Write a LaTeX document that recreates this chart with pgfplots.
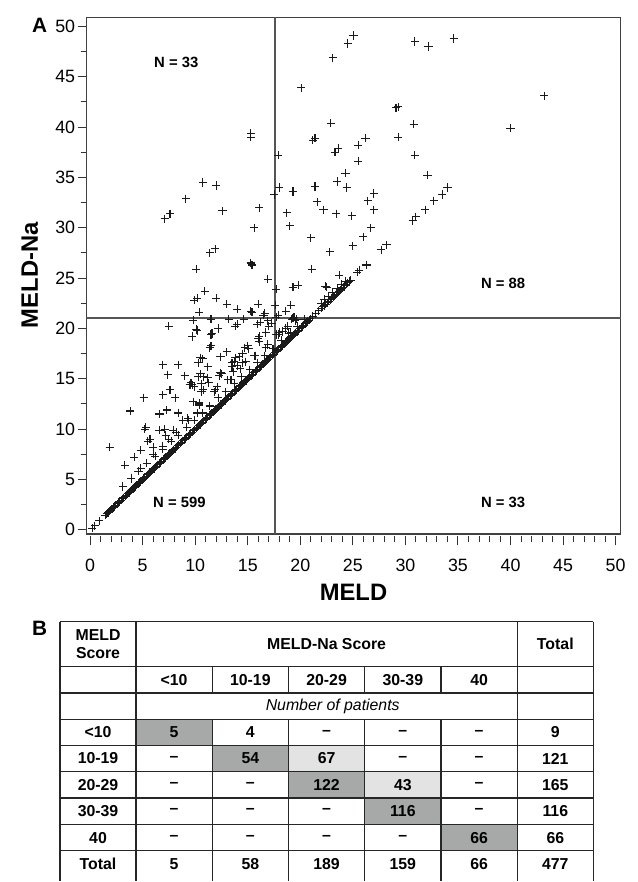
\documentclass[border=0pt]{standalone}
\usepackage{pgfplots}
\pgfplotsset{compat=1.18}
\usepackage{fontspec}
\setmainfont{Liberation Sans}
\definecolor{tdark}{HTML}{A7A9A8}
\definecolor{tlight}{HTML}{E3E3E3}
\definecolor{mk}{HTML}{1A1A1A}
\definecolor{refl}{HTML}{555555}
\begin{document}
\begin{tikzpicture}
\begin{scope}[x=0.5pt,y=-0.5pt]
\path[use as bounding box] (0,0) rectangle (644,882);
\end{scope}
\begin{axis}[
  at={(43.65pt,-269.65pt)}, anchor=south west,
  scale only axis, width=269.85pt, height=261pt,
  xmin=-0.35, xmax=50.5, ymin=-0.42, ymax=50.92,
  xtick={0,5,...,50}, ytick={0,5,...,50},
  minor x tick num=4, minor y tick num=1,
  tick pos=left,
  tick align=outside,
  major tick length=4.5pt, minor tick length=3pt,
  tick style={black!80, line width=0.5pt},
  xtick style={yshift=-1.2pt},
  axis line style={black!75, line width=0.6pt},
  ticklabel style={font=\fontsize{9}{10}\selectfont, black},
  /pgf/number format/assume math mode=true,
  xticklabel style={yshift=-4.5pt},
  yticklabel style={inner xsep=1pt},
  clip=true,
]
% reference lines
\addplot[refl, line width=0.65pt] coordinates {(17.6,-0.42) (17.6,50.92)};
\addplot[refl, line width=0.65pt] coordinates {(-0.35,21.05) (50.5,21.05)};
% scattered points
\addplot[only marks, mark=+, mark size=2.05pt, mk, mark options={line width=0.55pt}] table[row sep=\\] {
x y\\
25.06 49.1\\ 24.5 48.3\\ 23.1 46.9\\ 30.9 48.5\\ 32.2 48.0\\ 34.6 48.8\\
20.1 43.9\\ 43.2 43.1\\ 40.0 39.9\\ 29.1 41.9\\ 29.3 42.0\\ 22.9 40.4\\
30.8 40.3\\ 15.3 39.4\\ 15.3 39.0\\ 21.2 38.7\\ 21.4 38.9\\ 26.2 38.9\\
29.3 39.0\\ 25.5 38.2\\ 23.6 37.9\\ 23.3 37.5\\ 17.9 37.2\\ 30.9 37.2\\
25.5 36.6\\ 24.3 35.4\\ 32.1 35.2\\ 10.7 34.5\\ 12.0 34.2\\ 21.4 34.1\\
23.5 34.6\\ 24.4 34.0\\ 18.0 34.0\\ 19.3 33.6\\ 17.5 33.3\\ 27.0 33.4\\
26.4 32.7\\ 34.0 34.0\\ 33.5 33.3\\ 32.7 32.7\\ 31.9 31.8\\ 31.0 31.1\\
30.7 30.7\\ 9.1 32.9\\ 7.1 30.9\\ 7.6 31.4\\ 12.6 31.7\\ 16.1 32.0\\
18.7 31.5\\ 21.6 32.6\\ 22.2 31.8\\ 23.4 31.4\\ 24.9 31.2\\ 27.0 31.8\\
15.6 30.0\\ 19.0 30.2\\ 26.7 30.0\\ 26.0 29.1\\ 21.0 29.0\\ 25.0 28.2\\
28.2 28.3\\ 27.7 27.8\\ 22.8 27.6\\ 11.9 27.9\\ 11.4 27.5\\ 15.3 26.5\\
15.4 26.3\\ 10.1 25.9\\ 21.1 25.9\\ 26.3 26.3\\ 25.6 25.8\\ 25.4 25.6\\
23.7 25.3\\ 16.9 24.9\\
17.7 23.9\\ 19.3 24.1\\ 19.8 24.3\\ 22.4 24.2\\ 22.5 24.1\\ 10.9 23.7\\
10.2 23.0\\ 9.9 22.8\\ 12.0 23.0\\ 13.0 22.4\\ 14.0 21.9\\ 16.0 22.4\\
17.6 22.3\\ 19.1 22.3\\ 10.4 21.6\\ 15.4 21.6\\ 15.3 21.7\\ 16.6 21.5\\
18.6 21.7\\ 9.8 20.8\\ 11.5 20.9\\ 13.2 20.9\\ 14.6 20.9\\ 16.2 20.6\\
15.9 20.4\\ 16.9 20.75\\ 17.7 21.1\\ 19.2 20.9\\ 19.5 20.75\\ 7.5 20.2\\
10.2 19.8\\ 10.1 19.9\\ 12.2 20.0\\ 13.8 20.2\\ 14.0 20.4\\ 9.7 19.2\\
11.5 19.4\\ 16.7 19.6\\ 17.9 19.4\\ 19.1 19.6\\ 11.5 18.3\\ 11.4 18.1\\
13.0 17.7\\ 14.7 18.1\\ 15.0 18.3\\ 16.0 19.0\\ 16.7 18.1\\ 12.4 17.2\\
13.8 17.1\\ 14.5 17.5\\ 15.6 17.3\\ 6.9 16.4\\ 8.4 16.4\\ 10.5 17.1\\
10.7 17.0\\ 7.4 15.4\\ 9.0 15.3\\ 10.75 15.2\\ 12.3 15.3\\ 12.5 15.5\\
13.5 16.2\\ 14.0 16.3\\ 14.5 16.6\\ 14.8 16.7\\ 9.7 14.4\\ 9.9 14.2\\
10.6 14.5\\ 11.3 14.6\\ 12.1 14.2\\ 11.9 13.9\\ 13.4 14.9\\ 7.6 13.9\\
5.1 13.1\\ 6.9 13.4\\ 8.1 13.1\\ 10.6 13.7\\ 10.75 13.9\\ 9.8 12.7\\
10.4 12.6\\ 3.8 11.8\\ 6.6 11.5\\ 7.3 11.9\\ 8.4 11.6\\ 9.4 10.9\\
9.3 11.1\\ 10.2 11.6\\ 5.3 10.2\\ 5.2 10.0\\ 6.6 9.9\\ 7.1 10.0\\
7.9 9.9\\ 8.2 9.7\\ 5.7 9.0\\ 5.5 8.8\\ 7.5 9.0\\ 4.8 7.9\\
6.0 7.5\\ 6.9 8.3\\ 3.3 6.4\\ 4.8 6.1\\ 4.2 7.2\\ 1.86 8.2\\
0.2 0.16\\ 0.45 0.4\\ 0.85 0.9\\
13.7 16.7\\ 14.2 17.2\\ 15.1 18.0\\ 16.1 18.7\\ 16.1 19.2\\ 17.0 20.2\\
17.3 20.5\\ 17.7 19.4\\ 18.0 19.6\\ 18.6 20.0\\ 18.8 20.2\\ 19.3 21.0\\
19.4 21.1\\ 13.5 16.6\\ 13.6 15.7\\ 9.6 14.6\\ 9.5 14.4\\ 11.2 15.1\\
12.4 15.6\\ 10.3 15.2\\ 10.5 15.5\\ 11.2 16.2\\ 10.3 16.6\\ 16.5 21.3\\
17.9 21.3\\ 11.6 19.5\\
3.1 4.3\\ 3.9 5.1\\ 4.6 5.8\\ 5.4 6.6\\ 6.2 7.3\\ 6.9 8.0\\
7.7 8.8\\ 8.4 9.4\\ 9.2 10.2\\ 9.9 10.9\\ 10.7 11.6\\ 11.4 12.3\\
12.2 13.1\\ 12.9 13.7\\ 13.7 14.5\\ 14.4 15.2\\ 15.2 15.9\\ 15.9 16.6\\
16.6 17.3\\ 17.4 18.0\\ 18.2 18.8\\ 18.9 19.5\\ 19.7 20.2\\ 20.4 20.9\\
6.0 8.2\\ 7.2 9.4\\ 8.8 10.9\\ 10.4 12.4\\ 11.8 13.7\\ 13.1 14.9\\
14.3 16.0\\ 15.7 17.3\\ 16.9 18.4\\ 18.3 19.7\\ 19.6 20.9\\
22.0 22.5\\ 22.3 22.9\\ 22.7 23.2\\ 23.1 23.6\\ 23.5 24.0\\ 23.9 24.4\\ 24.3 24.7\\
}; 
% dense main diagonal
\addplot[only marks, mark=+, mark size=2.05pt, mk, mark options={line width=0.55pt}] table[row sep=\\] {
x y\\
1.45 1.45\\ 1.58 1.58\\ 1.70 1.70\\ 1.83 1.83\\ 1.95 1.95\\ 2.08 2.08\\ 2.20 2.20\\ 2.33 2.33\\
2.45 2.45\\ 2.58 2.58\\ 2.70 2.70\\ 2.83 2.83\\ 2.95 2.95\\ 3.08 3.08\\ 3.20 3.20\\ 3.33 3.33\\
3.45 3.45\\ 3.58 3.58\\ 3.70 3.70\\ 3.83 3.83\\ 3.95 3.95\\ 4.08 4.08\\ 4.20 4.20\\ 4.33 4.33\\
4.45 4.45\\ 4.58 4.58\\ 4.70 4.70\\ 4.83 4.83\\ 4.95 4.95\\ 5.08 5.08\\ 5.20 5.20\\ 5.33 5.33\\
5.45 5.45\\ 5.58 5.58\\ 5.70 5.70\\ 5.83 5.83\\ 5.95 5.95\\ 6.08 6.08\\ 6.20 6.20\\ 6.33 6.33\\
6.45 6.45\\ 6.58 6.58\\ 6.70 6.70\\ 6.83 6.83\\ 6.95 6.95\\ 7.08 7.08\\ 7.20 7.20\\ 7.33 7.33\\
7.45 7.45\\ 7.58 7.58\\ 7.70 7.70\\ 7.83 7.83\\ 7.95 7.95\\ 8.08 8.08\\ 8.20 8.20\\ 8.33 8.33\\
8.45 8.45\\ 8.58 8.58\\ 8.70 8.70\\ 8.83 8.83\\ 8.95 8.95\\ 9.08 9.08\\ 9.20 9.20\\ 9.33 9.33\\
9.45 9.45\\ 9.58 9.58\\ 9.70 9.70\\ 9.83 9.83\\ 9.95 9.95\\ 10.08 10.08\\ 10.20 10.20\\ 10.33 10.33\\
10.45 10.45\\ 10.58 10.58\\ 10.70 10.70\\ 10.83 10.83\\ 10.95 10.95\\ 11.08 11.08\\ 11.20 11.20\\ 11.33 11.33\\
11.45 11.45\\ 11.58 11.58\\ 11.70 11.70\\ 11.83 11.83\\ 11.95 11.95\\ 12.08 12.08\\ 12.20 12.20\\ 12.33 12.33\\
12.45 12.45\\ 12.58 12.58\\ 12.70 12.70\\ 12.83 12.83\\ 12.95 12.95\\ 13.08 13.08\\ 13.20 13.20\\ 13.33 13.33\\
13.45 13.45\\ 13.58 13.58\\ 13.70 13.70\\ 13.83 13.83\\ 13.95 13.95\\ 14.08 14.08\\ 14.20 14.20\\ 14.33 14.33\\
14.45 14.45\\ 14.58 14.58\\ 14.70 14.70\\ 14.83 14.83\\ 14.95 14.95\\ 15.08 15.08\\ 15.20 15.20\\ 15.33 15.33\\
15.45 15.45\\ 15.58 15.58\\ 15.70 15.70\\ 15.83 15.83\\ 15.95 15.95\\ 16.08 16.08\\ 16.20 16.20\\ 16.33 16.33\\
16.45 16.45\\ 16.58 16.58\\ 16.70 16.70\\ 16.83 16.83\\ 16.95 16.95\\ 17.08 17.08\\ 17.20 17.20\\ 17.33 17.33\\
17.45 17.45\\ 17.58 17.58\\ 17.70 17.70\\ 17.83 17.83\\ 17.95 17.95\\ 18.08 18.08\\ 18.20 18.20\\ 18.33 18.33\\
18.45 18.45\\ 18.58 18.58\\ 18.70 18.70\\ 18.83 18.83\\ 18.95 18.95\\ 19.08 19.08\\ 19.20 19.20\\ 19.33 19.33\\
19.45 19.45\\ 19.58 19.58\\ 19.70 19.70\\ 19.83 19.83\\ 19.95 19.95\\ 20.08 20.08\\ 20.20 20.20\\ 20.33 20.33\\
20.45 20.45\\ 20.58 20.58\\ 20.70 20.70\\ 20.83 20.83\\ 20.95 20.95\\ 21.20 21.20\\ 21.45 21.45\\ 21.75 21.75\\
22.00 22.00\\ 22.14 22.14\\ 22.28 22.28\\ 22.42 22.42\\ 22.56 22.56\\ 22.70 22.70\\ 22.84 22.84\\
22.98 22.98\\ 23.12 23.12\\ 23.26 23.26\\ 23.40 23.40\\ 23.54 23.54\\ 23.68 23.68\\ 23.82 23.82\\
23.96 23.96\\ 24.10 24.10\\ 24.24 24.24\\ 24.38 24.38\\ 24.52 24.52\\ 24.66 24.66\\ 24.80 24.80\\
};
\node[font=\bfseries\fontsize{7.5}{9}\selectfont] at (axis cs:8.2,46.4) {N = 33};
\node[font=\bfseries\fontsize{7.5}{9}\selectfont] at (axis cs:39.3,24.5) {N = 88};
\node[font=\bfseries\fontsize{7.5}{9}\selectfont] at (axis cs:8.5,2.75) {N = 599};
\node[font=\bfseries\fontsize{7.5}{9}\selectfont] at (axis cs:39.3,2.75) {N = 33};
\end{axis}
\begin{scope}[x=0.5pt,y=-0.5pt]
\node[font=\bfseries\fontsize{12}{14}\selectfont] at (357,598) {MELD};
\node[rotate=90, font=\bfseries\fontsize{12}{14}\selectfont] at (30,278) {MELD-Na};
\node[font=\bfseries\fontsize{10.5}{12}\selectfont] at (40,25.5) {A};
\node[font=\bfseries\fontsize{10.5}{12}\selectfont] at (40,634.5) {B};
% table shading
\fill[tdark] (137.3,726.7) rectangle (214.3,752.7);
\fill[tdark] (214.3,752.7) rectangle (291.3,779.3);
\fill[tlight] (291.3,752.7) rectangle (368.3,779.3);
\fill[tdark] (291.3,779.3) rectangle (368.3,806);
\fill[tlight] (368.3,779.3) rectangle (445.3,806);
\fill[tdark] (368.3,806) rectangle (445.3,832.7);
\fill[tdark] (445.3,832.7) rectangle (522.3,859);
% table lines
\begin{scope}[black!85, line width=0.7pt]
\foreach \r in {627.7,673.3,700,726.7,752.7,779.3,806,832.7,859}
  \draw (60.7,\r) -- (599.3,\r);
\foreach \c in {60.7,137.3,522.3,599.3}
  \draw (\c,627.7) -- (\c,890);
\foreach \c in {214.3,291.3,368.3,445.3} {
  \draw (\c,673.3) -- (\c,700);
  \draw (\c,726.7) -- (\c,890);
}
\end{scope}
% table text
\begin{scope}[font=\bfseries\fontsize{8}{8.8}\selectfont]
\node[align=center] at (99,650.5) {MELD\\Score};
\node at (329.8,650.5) {MELD-Na Score};
\node at (560.8,650.5) {Total};
\node at (175.8,686.7) {<10};
\node at (252.8,686.7) {10-19};
\node at (329.8,686.7) {20-29};
\node at (406.8,686.7) {30-39};
\node at (483.8,686.7) {40};
\node[font=\mdseries\itshape\fontsize{8}{9}\selectfont] at (336,713.3) {Number of patients};
% rows
\node at (99,739.7) {<10};
\node at (175.8,739.7) {5};
\node at (252.8,739.7) {4};
\node at (329.8,739.7) {–};
\node at (406.8,739.7) {–};
\node at (483.8,739.7) {–};
\node at (560.8,739.7) {9};
\node at (99,766) {10-19};
\node at (175.8,766) {–};
\node at (252.8,766) {54};
\node at (329.8,766) {67};
\node at (406.8,766) {–};
\node at (483.8,766) {–};
\node at (560.8,766) {121};
\node at (99,792.7) {20-29};
\node at (175.8,792.7) {–};
\node at (252.8,792.7) {–};
\node at (329.8,792.7) {122};
\node at (406.8,792.7) {43};
\node at (483.8,792.7) {–};
\node at (560.8,792.7) {165};
\node at (99,819.3) {30-39};
\node at (175.8,819.3) {–};
\node at (252.8,819.3) {–};
\node at (329.8,819.3) {–};
\node at (406.8,819.3) {116};
\node at (483.8,819.3) {–};
\node at (560.8,819.3) {116};
\node at (99,845.8) {40};
\node at (175.8,845.8) {–};
\node at (252.8,845.8) {–};
\node at (329.8,845.8) {–};
\node at (406.8,845.8) {–};
\node at (483.8,845.8) {66};
\node at (560.8,845.8) {66};
\node at (99,872.2) {Total};
\node at (175.8,872.2) {5};
\node at (252.8,872.2) {58};
\node at (329.8,872.2) {189};
\node at (406.8,872.2) {159};
\node at (483.8,872.2) {66};
\node at (560.8,872.2) {477};
\end{scope}
\end{scope}
\end{tikzpicture}
\end{document}
